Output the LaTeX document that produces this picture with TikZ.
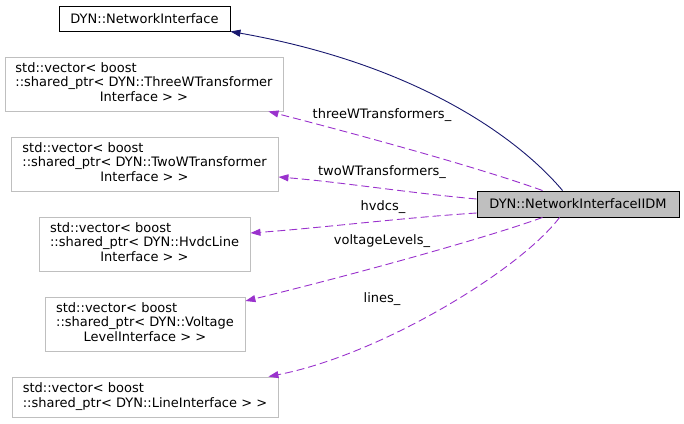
\documentclass[tikz,border=0pt]{standalone}
\usepackage{fontspec}
\setmainfont{DejaVu Sans}
\usepackage{xcolor}
\usetikzlibrary{arrows.meta,positioning}
\definecolor{memberpurple}{HTML}{9A32CD}
\definecolor{basenavy}{HTML}{191970}
\definecolor{boxgray}{HTML}{BFBFBF}
\newcommand{\vecof}[2]{\begin{tabular}{@{}l@{}}std::vector< boost\\::shared\_ptr< DYN::#1\\\multicolumn{1}{@{}c@{}}{#2}\end{tabular}}

\begin{document}
\begin{tikzpicture}[x=1pt,y=-1pt,
  cls/.style={draw=boxgray,line width=0.9pt,fill=white,align=center,inner sep=0pt,
    font=\fontsize{13}{14.5}\selectfont},
  focus/.style={cls,draw=black,fill=boxgray},
  base/.style={draw=basenavy,line width=0.9pt,-{Triangle[length=10pt,width=7pt]}},
  member/.style={draw=memberpurple,line width=0.9pt,dash pattern=on 8pt off 4pt,
    -{Triangle[length=10pt,width=7pt,fill=memberpurple]}},
  lbl/.style={font=\fontsize{13}{14.5}\selectfont,inner sep=0pt}]
\useasboundingbox (0,0) rectangle (684,423);

\node[cls,draw=black,minimum width=171pt,minimum height=25pt] (netif) at (144.5,18.5) {DYN::NetworkInterface};
\node[cls,minimum width=278pt,minimum height=54pt] (threew) at (144,84) {\vecof{ThreeWTransformer}{Interface > >}};
\node[cls,minimum width=267pt,minimum height=54pt] (twow) at (144.5,164) {\vecof{TwoWTransformer}{Interface > >}};
\node[cls,minimum width=211pt,minimum height=54pt] (hvdc) at (144.5,244) {\vecof{HvdcLine}{Interface > >}};
\node[cls,minimum width=200pt,minimum height=54pt] (vlevel) at (145,324) {\vecof{Voltage}{LevelInterface > >}};
\node[cls,minimum width=266pt,minimum height=40pt] (line) at (145,397)
  {\begin{tabular}{@{}l@{}}std::vector< boost\\::shared\_ptr< DYN::LineInterface > >\end{tabular}};
\node[focus,minimum width=202pt,minimum height=26pt] (iidm) at (578,204) {DYN::NetworkInterfaceIIDM};

\draw[base] ([xshift=86pt]iidm.north west) .. controls (520,140) and (420,65) .. (netif.south east);
\draw[member] ([xshift=66pt]iidm.north west) .. controls (480,168) and (360,135) .. ([xshift=-15pt]threew.south east);
\draw[member] ([yshift=5pt]iidm.west) .. controls (410,193) and (340,182) .. ([yshift=-13pt]twow.east);
\draw[member] ([yshift=-9pt]iidm.west) .. controls (400,218) and (320,228) .. ([yshift=11pt]hvdc.east);
\draw[member] ([xshift=66pt]iidm.south west) .. controls (480,240) and (340,278) .. ([yshift=23pt]vlevel.east);
\draw[member] ([xshift=83pt]iidm.south west) .. controls (520,270) and (380,355) .. ([xshift=-10pt]line.north east);

\node[lbl] (lthreew) at (382,115) {threeWTransformers\_};
\node[lbl] (ltwow) at (382,172) {twoWTransformers\_};
\node[lbl] (lhvdc) at (383,207) {hvdcs\_};
\node[lbl] (lvlevel) at (382,241) {voltageLevels\_};
\node[lbl] (lline) at (382,299) {lines\_};
\end{tikzpicture}
\end{document}
